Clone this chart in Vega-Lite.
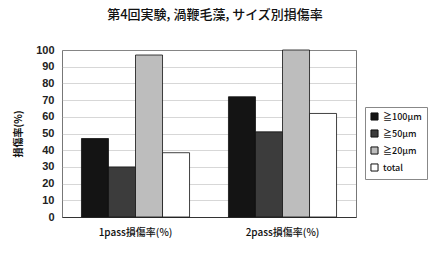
{
  "$schema": "https://vega.github.io/schema/vega-lite/v6.json",
  "autosize": "none",
  "width": 294,
  "height": 167,
  "padding": {"left": 62, "top": 50, "right": 74, "bottom": 36},
  "background": "white",
  "title": {
    "text": "第4回実験, 渦鞭毛藻, サイズ別損傷率",
    "font": "Noto Sans CJK JP",
    "fontSize": 13,
    "fontWeight": 500,
    "color": "#111",
    "anchor": "middle",
    "dx": 6,
    "offset": 22
  },
  "data": {
    "values": [
      {"group": "1pass損傷率(%)", "size": "≧100μm", "value": 47},
      {"group": "1pass損傷率(%)", "size": "≧50μm", "value": 30},
      {"group": "1pass損傷率(%)", "size": "≧20μm", "value": 97},
      {"group": "1pass損傷率(%)", "size": "total", "value": 38.5},
      {"group": "2pass損傷率(%)", "size": "≧100μm", "value": 72},
      {"group": "2pass損傷率(%)", "size": "≧50μm", "value": 51},
      {"group": "2pass損傷率(%)", "size": "≧20μm", "value": 100},
      {"group": "2pass損傷率(%)", "size": "total", "value": 62}
    ]
  },
  "mark": {"type": "bar", "stroke": "#111", "strokeWidth": 0.8},
  "encoding": {
    "x": {
      "field": "group",
      "type": "nominal",
      "scale": {"paddingInner": 0, "paddingOuter": 0},
      "axis": {
        "title": null,
        "labelAngle": 0,
        "labelFont": "Noto Sans CJK JP",
        "labelFontSize": 10,
        "labelFontWeight": 500,
        "labelColor": "#111",
        "ticks": false,
        "domain": true,
        "domainColor": "#333",
        "domainWidth": 1,
        "labelPadding": 10
      }
    },
    "xOffset": {
      "field": "size",
      "type": "nominal",
      "sort": ["≧100μm", "≧50μm", "≧20μm", "total"],
      "scale": {"paddingInner": 0, "paddingOuter": 0.72}
    },
    "y": {
      "field": "value",
      "type": "quantitative",
      "scale": {"domain": [0, 100], "nice": false},
      "axis": {
        "title": "損傷率(%)",
        "titleFont": "Noto Sans CJK JP",
        "titleFontSize": 10,
        "titleFontWeight": "bold",
        "titleColor": "#111",
        "titlePadding": 12,
        "values": [0, 10, 20, 30, 40, 50, 60, 70, 80, 90, 100],
        "labelFont": "Liberation Sans",
        "labelFontSize": 11,
        "labelFontWeight": "bold",
        "labelColor": "#222",
        "ticks": false,
        "domain": false,
        "labelPadding": 8,
        "grid": true,
        "gridColor": "#999",
        "gridDash": [1, 1],
        "gridWidth": 0.8
      }
    },
    "fill": {
      "field": "size",
      "type": "nominal",
      "sort": ["≧100μm", "≧50μm", "≧20μm", "total"],
      "scale": {
        "domain": ["≧100μm", "≧50μm", "≧20μm", "total"],
        "range": ["#141414", "#3c3c3c", "#bdbdbd", "#ffffff"]
      },
      "legend": {
        "title": null,
        "orient": "none",
        "legendX": 303,
        "legendY": 57,
        "symbolType": "square",
        "symbolSize": 50,
        "symbolStrokeColor": "#111",
        "symbolStrokeWidth": 1,
        "labelFont": "Noto Sans CJK JP",
        "labelFontSize": 9,
        "labelFontWeight": 500,
        "labelColor": "#111",
        "rowPadding": 4,
        "padding": 5,
        "strokeColor": "#888",
        "fillColor": "white"
      }
    }
  },
  "config": {
    "view": {"stroke": "#777", "strokeWidth": 1}
  }
}
